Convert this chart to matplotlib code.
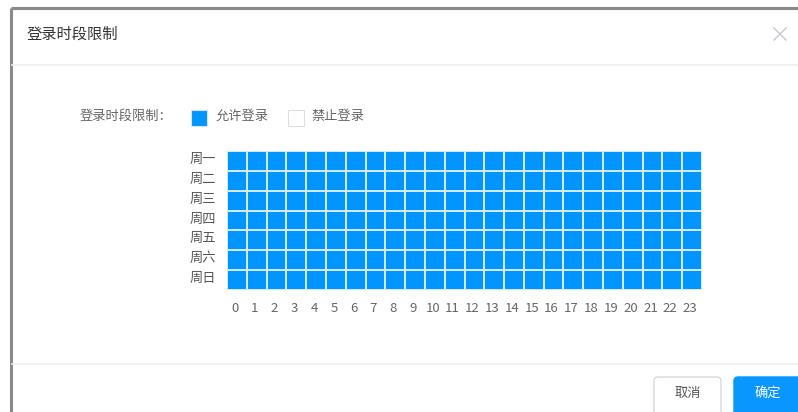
import matplotlib
matplotlib.use("Agg")
import matplotlib.pyplot as plt
import matplotlib.transforms as mtransforms
import numpy as np
from matplotlib.colors import ListedColormap
from matplotlib.patches import Rectangle, FancyBboxPatch

plt.rcParams['font.family'] = ['Noto Sans CJK SC', 'DejaVu Sans']

# data
days = ['周一', '周二', '周三', '周四', '周五', '周六', '周日']
hours = [str(h) for h in range(24)]
# 1 = 允许登录, 0 = 禁止登录 (every slot allowed in the picture)
allowed = np.ones((len(days), len(hours)), dtype=int)

title = '登录时段限制'
legend_title = '登录时段限制：'
legend_labels = ['允许登录', '禁止登录']
buttons = ['取消', '确定']

BLUE = '#0095ff'
W, H = 798, 412

fig = plt.figure(figsize=(W / 100, H / 100), dpi=100)

# ---- dialog chrome, in pixel coords ----
bg = fig.add_axes([0, 0, 1, 1])
bg.set_xlim(0, W)
bg.set_ylim(H, 0)
bg.axis('off')

# dialog frame (grey left + top edge)
bg.plot([11, 11], [8, H], color='#8a8a8a', lw=2.2, solid_capstyle='butt')
bg.plot([11, W], [8, 8], color='#8a8a8a', lw=2.2, solid_capstyle='butt')

bg.text(27, 34, title, fontsize=11, color='#333333', va='center', ha='left')
# close "x"
bg.plot([774, 786], [28, 40], color='#c8ccd4', lw=1.1)
bg.plot([774, 786], [40, 28], color='#c8ccd4', lw=1.1)

# separators
bg.plot([12, W], [65, 65], color='#eeeef4', lw=1.2)
bg.plot([12, W], [364, 364], color='#eeeef4', lw=1.2)

# legend row
bg.text(80, 116, legend_title, fontsize=9.5, color='#666666', va='center', ha='left')
bg.add_patch(Rectangle((191, 110), 16, 16, facecolor=BLUE, edgecolor='#cfe6fb', lw=0.8))
bg.text(216, 116, legend_labels[0], fontsize=9.5, color='#666666', va='center', ha='left')
bg.add_patch(Rectangle((288, 110), 16, 16, facecolor='white', edgecolor='#dcdfe6', lw=0.8))
bg.text(312, 116, legend_labels[1], fontsize=9.5, color='#666666', va='center', ha='left')

# buttons
bg.add_patch(FancyBboxPatch((654, 377), 67, 40, boxstyle='round,pad=0,rounding_size=4',
                            facecolor='white', edgecolor='#d9d9d9', lw=1))
bg.text(687.5, 393, buttons[0], fontsize=9.5, color='#555555', va='center', ha='center')
bg.add_patch(FancyBboxPatch((734, 377), 80, 40, boxstyle='round,pad=0,rounding_size=4',
                            facecolor='#0a96ff', edgecolor='#0a96ff', lw=1))
bg.text(768, 393, buttons[1], fontsize=9.5, color='white', va='center', ha='center')

# ---- time-slot grid ----
gx0, gx1, gy0, gy1 = 227, 702, 151, 290
ax = fig.add_axes([gx0 / W, 1 - gy1 / H, (gx1 - gx0) / W, (gy1 - gy0) / H])
cmap = ListedColormap(['white', BLUE])
ax.pcolormesh(np.arange(len(hours) + 1), np.arange(len(days) + 1), allowed,
              cmap=cmap, vmin=0, vmax=1, edgecolors='#d4eafd', linewidth=1.3)
ax.set_xlim(0, len(hours))
ax.set_ylim(len(days), 0)
ax.set_xticks(np.arange(len(hours)) + 0.5)
ax.set_xticklabels(hours, fontsize=9.5, color='#666666')
ax.set_yticks(np.arange(len(days)) + 0.5)
ax.set_yticklabels(days, fontsize=9.5, color='#555555')
ax.tick_params(length=0, axis='x', pad=9)
ax.tick_params(length=0, axis='y', pad=8)
# day labels sit a little above the row centres
shift_up = mtransforms.ScaledTranslation(0, 3 / 100, fig.dpi_scale_trans)
for lab in ax.get_yticklabels():
    lab.set_transform(lab.get_transform() + shift_up)
shift_left = mtransforms.ScaledTranslation(-2 / 100, 0, fig.dpi_scale_trans)
for lab in ax.get_xticklabels():
    lab.set_transform(lab.get_transform() + shift_left)
for s in ax.spines.values():
    s.set_visible(False)

fig.savefig('out.png', dpi=100)
